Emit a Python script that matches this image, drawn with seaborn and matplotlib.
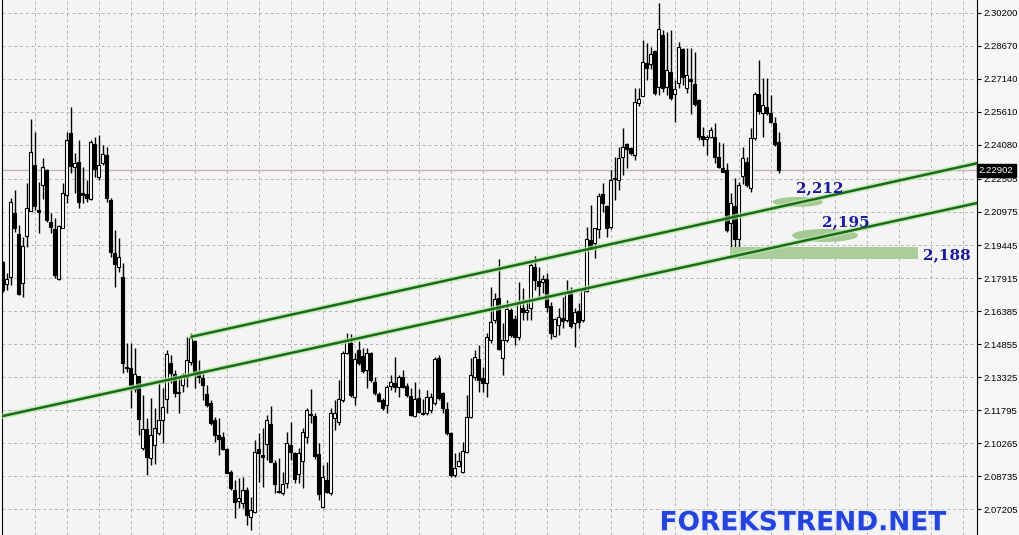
import numpy as np
import pandas as pd
import matplotlib
matplotlib.use("Agg")
import matplotlib.pyplot as plt
from matplotlib.patches import Ellipse, Rectangle
from matplotlib import patheffects
import seaborn as sns

# daily candles (oldest first)
opens = [
    2.1867, 2.1763, 2.1795, 2.2092, 2.1994, 2.1770, 2.1986, 2.2102, 2.2315, 2.2107,
    2.2221, 2.2292, 2.2051, 2.2017, 2.1788, 2.2022, 2.2176, 2.2462, 2.2304, 2.2330,
    2.2184, 2.2181, 2.2159, 2.2412, 2.2261, 2.2323, 2.2362, 2.2153, 2.1907, 2.1841,
    2.1795, 2.1381, 2.1374, 2.1277, 2.1338, 2.1004, 2.1091, 2.0957, 2.1019, 2.1073,
    2.1134, 2.1230, 2.1397, 2.1347, 2.1265, 2.1297, 2.1332, 2.1404, 2.1502, 2.1363,
    2.1328, 2.1254, 2.1214, 2.1134, 2.1065, 2.1057, 2.0998, 2.0895, 2.0810, 2.0759,
    2.0749, 2.0810, 2.0684, 2.0710, 2.0998, 2.0972, 2.1023, 2.1116, 2.0937, 2.0806,
    2.0795, 2.0841, 2.1019, 2.0980, 2.0883, 2.0946, 2.1054, 2.1162, 2.1155, 2.0977,
    2.0730, 2.0857, 2.0798, 2.1142, 2.1126, 2.1227, 2.1443, 2.1490, 2.1242, 2.1459,
    2.1431, 2.1366, 2.1443, 2.1312, 2.1254, 2.1227, 2.1204, 2.1292, 2.1305, 2.1289,
    2.1332, 2.1292, 2.1246, 2.1153, 2.1235, 2.1162, 2.1166, 2.1181, 2.1214, 2.1420,
    2.1261, 2.1184, 2.1076, 2.0880, 2.0921, 2.0895, 2.0987, 2.1150, 2.1335, 2.1418,
    2.1328, 2.1305, 2.1505, 2.1597, 2.1698, 2.1420, 2.1505, 2.1644, 2.1600, 2.1517,
    2.1652, 2.1636, 2.1652, 2.1844, 2.1778, 2.1775, 2.1786, 2.1662, 2.1523, 2.1574,
    2.1605, 2.1597, 2.1724, 2.1585, 2.1640, 2.1597, 2.1733, 2.1968, 2.1955, 2.2017,
    2.2181, 2.2125, 2.2029, 2.2254, 2.2246, 2.2351, 2.2412, 2.2392, 2.2361, 2.2601,
    2.2636, 2.2789, 2.2783, 2.2844, 2.2675, 2.2917, 2.2675, 2.2747, 2.2644, 2.2693,
    2.2851, 2.2670, 2.2715, 2.2690, 2.2616, 2.2449, 2.2435, 2.2443, 2.2446, 2.2354,
    2.2300, 2.2292, 2.2048, 2.2125, 2.1971, 2.2264, 2.2330, 2.2207, 2.2439, 2.2642,
    2.2554, 2.2585, 2.2554, 2.2508, 2.2420,
]
highs = [
    2.1870, 2.1814, 2.2161, 2.2199, 2.2037, 2.1983, 2.2231, 2.2528, 2.2469, 2.2238,
    2.2347, 2.2295, 2.2092, 2.2068, 2.2037, 2.2231, 2.2469, 2.2585, 2.2370, 2.2431,
    2.2307, 2.2246, 2.2431, 2.2443, 2.2454, 2.2408, 2.2400, 2.2161, 2.2014, 2.1976,
    2.1860, 2.1490, 2.1491, 2.1467, 2.1338, 2.1250, 2.1142, 2.1235, 2.1189, 2.1305,
    2.1281, 2.1459, 2.1436, 2.1366, 2.1335, 2.1351, 2.1520, 2.1536, 2.1505, 2.1412,
    2.1351, 2.1297, 2.1227, 2.1150, 2.1142, 2.1080, 2.1003, 2.0903, 2.0857, 2.0865,
    2.0872, 2.0825, 2.0779, 2.1042, 2.1073, 2.1096, 2.1157, 2.1199, 2.0949, 2.0957,
    2.0895, 2.1080, 2.1126, 2.0987, 2.1003, 2.1096, 2.1189, 2.1277, 2.1166, 2.1027,
    2.0926, 2.0941, 2.1189, 2.1227, 2.1320, 2.1455, 2.1539, 2.1533, 2.1443, 2.1502,
    2.1466, 2.1466, 2.1451, 2.1335, 2.1265, 2.1235, 2.1297, 2.1343, 2.1428, 2.1343,
    2.1366, 2.1305, 2.1281, 2.1312, 2.1277, 2.1230, 2.1273, 2.1261, 2.1425, 2.1436,
    2.1265, 2.1219, 2.1080, 2.0980, 2.0987, 2.1034, 2.1250, 2.1420, 2.1459, 2.1482,
    2.1381, 2.1536, 2.1752, 2.1721, 2.1879, 2.1582, 2.1690, 2.1652, 2.1620, 2.1775,
    2.1744, 2.1682, 2.1860, 2.1894, 2.1844, 2.1806, 2.1814, 2.1682, 2.1605, 2.1652,
    2.1705, 2.1783, 2.1752, 2.1652, 2.1675, 2.1744, 2.2029, 2.2130, 2.2025, 2.2187,
    2.2231, 2.2130, 2.2292, 2.2354, 2.2400, 2.2485, 2.2418, 2.2400, 2.2670, 2.2670,
    2.2894, 2.2881, 2.2863, 2.2847, 2.3064, 2.2940, 2.2932, 2.2940, 2.2709, 2.2886,
    2.2855, 2.2855, 2.2855, 2.2840, 2.2619, 2.2492, 2.2454, 2.2492, 2.2508, 2.2423,
    2.2416, 2.2323, 2.2184, 2.2254, 2.2238, 2.2400, 2.2354, 2.2485, 2.2654, 2.2801,
    2.2716, 2.2716, 2.2639, 2.2539, 2.2469,
]
lows = [
    2.1725, 2.1736, 2.1760, 2.2006, 2.1713, 2.1705, 2.1937, 2.2102, 2.2107, 2.1999,
    2.2156, 2.2052, 2.1999, 2.1791, 2.1783, 2.2022, 2.2138, 2.2277, 2.2184, 2.2115,
    2.2138, 2.2145, 2.2153, 2.2261, 2.2246, 2.2315, 2.2145, 2.1891, 2.1752, 2.1821,
    2.1351, 2.1358, 2.1189, 2.1265, 2.1065, 2.0995, 2.0880, 2.0926, 2.0930, 2.1065,
    2.1027, 2.1166, 2.1305, 2.1242, 2.1166, 2.1265, 2.1289, 2.1389, 2.1281, 2.1305,
    2.1227, 2.1196, 2.1111, 2.1034, 2.0972, 2.0995, 2.0888, 2.0810, 2.0679, 2.0725,
    2.0725, 2.0648, 2.0625, 2.0702, 2.0849, 2.0826, 2.0949, 2.0941, 2.0798, 2.0795,
    2.0787, 2.0818, 2.0949, 2.0841, 2.0841, 2.0818, 2.1029, 2.1119, 2.0952, 2.0764,
    2.0725, 2.0795, 2.0787, 2.1088, 2.1111, 2.1219, 2.1440, 2.1242, 2.1204, 2.1389,
    2.1353, 2.1281, 2.1312, 2.1250, 2.1219, 2.1181, 2.1166, 2.1273, 2.1265, 2.1242,
    2.1281, 2.1242, 2.1153, 2.1150, 2.1166, 2.1158, 2.1158, 2.1166, 2.1204, 2.1227,
    2.1166, 2.1065, 2.0872, 2.0872, 2.0918, 2.0890, 2.0980, 2.1142, 2.1320, 2.1265,
    2.1265, 2.1242, 2.1490, 2.1582, 2.1459, 2.1343, 2.1497, 2.1520, 2.1482, 2.1505,
    2.1597, 2.1597, 2.1597, 2.1736, 2.1705, 2.1721, 2.1636, 2.1508, 2.1520, 2.1528,
    2.1559, 2.1590, 2.1559, 2.1474, 2.1559, 2.1590, 2.1728, 2.1925, 2.1883, 2.1976,
    2.2099, 2.1980, 2.2017, 2.2153, 2.2199, 2.2269, 2.2300, 2.2361, 2.2338, 2.2588,
    2.2635, 2.2709, 2.2758, 2.2639, 2.2639, 2.2654, 2.2639, 2.2616, 2.2515, 2.2670,
    2.2685, 2.2647, 2.2551, 2.2588, 2.2431, 2.2403, 2.2361, 2.2439, 2.2323, 2.2300,
    2.2284, 2.2006, 2.1898, 2.1906, 2.1898, 2.2227, 2.2215, 2.2191, 2.2431, 2.2551,
    2.2446, 2.2547, 2.2511, 2.2403, 2.2279,
]
closes = [
    2.1736, 2.1788, 2.2142, 2.2022, 2.1716, 2.1940, 2.2115, 2.2374, 2.2127, 2.2096,
    2.2304, 2.2060, 2.2029, 2.1806, 2.2034, 2.2184, 2.2430, 2.2312, 2.2326, 2.2145,
    2.2178, 2.2163, 2.2423, 2.2295, 2.2315, 2.2365, 2.2161, 2.1914, 2.1855, 2.1891,
    2.1399, 2.1374, 2.1297, 2.1347, 2.1138, 2.1091, 2.0964, 2.1065, 2.1096, 2.1134,
    2.1196, 2.1439, 2.1353, 2.1258, 2.1258, 2.1343, 2.1412, 2.1513, 2.1358, 2.1332,
    2.1297, 2.1204, 2.1119, 2.1065, 2.1045, 2.0998, 2.0891, 2.0818, 2.0756, 2.0772,
    2.0810, 2.0695, 2.0718, 2.0987, 2.0983, 2.0964, 2.1134, 2.0941, 2.0837, 2.0801,
    2.0838, 2.1029, 2.0987, 2.0861, 2.0980, 2.1079, 2.1181, 2.1156, 2.0968, 2.0790,
    2.0872, 2.0802, 2.1166, 2.1166, 2.1230, 2.1443, 2.1505, 2.1250, 2.1415, 2.1397,
    2.1363, 2.1443, 2.1320, 2.1258, 2.1224, 2.1189, 2.1286, 2.1312, 2.1286, 2.1335,
    2.1289, 2.1250, 2.1158, 2.1230, 2.1173, 2.1169, 2.1239, 2.1242, 2.1415, 2.1235,
    2.1189, 2.1073, 2.0880, 2.0911, 2.0946, 2.0992, 2.1150, 2.1343, 2.1428, 2.1320,
    2.1305, 2.1520, 2.1590, 2.1693, 2.1462, 2.1505, 2.1647, 2.1528, 2.1520, 2.1677,
    2.1636, 2.1644, 2.1852, 2.1783, 2.1755, 2.1786, 2.1656, 2.1539, 2.1601, 2.1613,
    2.1594, 2.1724, 2.1570, 2.1636, 2.1590, 2.1736, 2.1971, 2.1925, 2.2022, 2.2172,
    2.2138, 2.2025, 2.2246, 2.2249, 2.2346, 2.2400, 2.2388, 2.2372, 2.2608, 2.2621,
    2.2791, 2.2763, 2.2829, 2.2647, 2.2943, 2.2670, 2.2755, 2.2624, 2.2666, 2.2863,
    2.2721, 2.2732, 2.2705, 2.2597, 2.2446, 2.2434, 2.2446, 2.2477, 2.2354, 2.2304,
    2.2284, 2.2014, 2.2141, 2.1971, 2.2222, 2.2346, 2.2222, 2.2439, 2.2642, 2.2566,
    2.2593, 2.2557, 2.2516, 2.2411, 2.2290,
]

price_ticks = [2.07205, 2.08735, 2.10265, 2.11795, 2.13325, 2.14855, 2.16385, 2.17915,
               2.19445, 2.20975, 2.22505, 2.24080, 2.25610, 2.27140, 2.28670, 2.30200]
last_price = 2.22902

# trend lines (candle index, price)
support_x = [-0.7, 243.6]
support_y = [2.1150, 2.2139]
resist_x = [47.2, 243.6]
resist_y = [2.1520, 2.2323]

level_labels = ["2,212", "2,195", "2,188"]

df = pd.DataFrame({"open": opens, "high": highs, "low": lows, "close": closes})
df["x"] = np.arange(len(df))
df["bull"] = df["close"] >= df["open"]
df["bottom"] = df[["open", "close"]].min(axis=1)
df["body"] = (df["close"] - df["open"]).abs().clip(lower=0.0004)

sns.set_style("white")
plt.rcParams["font.family"] = ["DejaVu Sans"]

fig = plt.figure(figsize=(10.2, 5.35), dpi=100, facecolor="#f7f7f7")
ax = fig.add_axes([2 / 1020, 0, 975 / 1020, 1])
ax.set_facecolor("#f4f4f4")
ax.set_xlim(-0.2, 243.6)
ax.set_ylim(2.0602, 2.3079)

# grid
ax.set_xticks(np.arange(8, 244, 8))
ax.set_yticks(price_ticks)
ax.grid(True, color="#b4b4b4", lw=0.7, linestyle=(0, (3, 3)))
ax.tick_params(axis="x", length=0, labelbottom=False)
ax.yaxis.tick_right()
ax.set_yticklabels(["%.5f" % p for p in price_ticks])
ax.tick_params(axis="y", length=3, width=0.8, pad=2, labelsize=6.8, colors="black")
for lab in ax.get_yticklabels():
    lab.set_family("Liberation Sans")
for s in ["top", "bottom"]:
    ax.spines[s].set_visible(False)
ax.spines["right"].set_color("black")
ax.spines["left"].set_color("black")

ax.axhline(last_price, color="#c4b4b4", lw=1, zorder=1)

# candles
ax.vlines(df["x"], df["low"], df["high"], color="black", lw=1, zorder=2)
up = df[df["bull"]]
dn = df[~df["bull"]]
ax.bar(up["x"], up["body"], bottom=up["bottom"], width=0.75, color="white",
       edgecolor="black", linewidth=0.8, zorder=3)
ax.bar(dn["x"], dn["body"], bottom=dn["bottom"], width=0.75, color="black",
       edgecolor="black", linewidth=0.8, zorder=3)

# highlight zones
green = "#a6c894"
ax.add_patch(Ellipse((198.8, 2.2144), 12.5, 0.0046, color=green, zorder=4, lw=0))
ax.add_patch(Ellipse((205.6, 2.1989), 16.5, 0.0060, color=green, zorder=4, lw=0))
ax.add_patch(Rectangle((181.8, 2.1880), 47.0, 0.0055, color="#aacd9b", zorder=4, lw=0))

# trend lines
for tx, ty in [(support_x, support_y), (resist_x, resist_y)]:
    sns.lineplot(x=tx, y=ty, ax=ax, color="#b8e8a8", lw=4, alpha=0.7, zorder=5)
    sns.lineplot(x=tx, y=ty, ax=ax, color="#1b6b1b", lw=1.8, zorder=6)

lab_style = dict(color="#1a1a9c", fontsize=11, fontweight="bold", family="DejaVu Serif",
                 ha="center", va="center", zorder=7)
ax.text(204.3, 2.2209, level_labels[0], **lab_style)
ax.text(210.8, 2.2051, level_labels[1], **lab_style)
ax.text(236.1, 2.1898, level_labels[2], **lab_style)

# current price tag
ax.text(1.002, last_price, "%.5f" % last_price, transform=ax.get_yaxis_transform(),
        color="white", fontsize=6.8, family="Liberation Sans", va="center", ha="left",
        bbox=dict(boxstyle="square,pad=0.25", fc="black", ec="black"), clip_on=False, zorder=8)

fig.text(0.787, 0.022, "FOREKSTREND.NET", color="#2444dc", fontsize=19, fontweight="bold",
         ha="center", va="center",
         path_effects=[patheffects.withStroke(linewidth=2, foreground="#e8ecff")])

fig.savefig("out.png", dpi=100, facecolor=fig.get_facecolor())
